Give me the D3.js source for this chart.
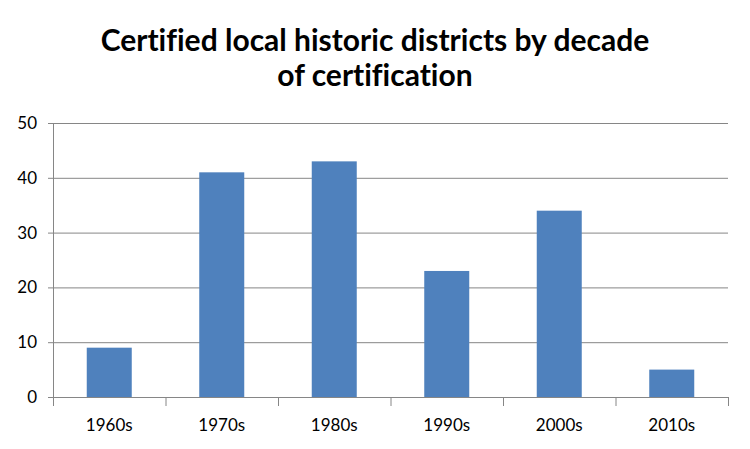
<!DOCTYPE html>
<html><head><meta charset="utf-8">
<script src="https://cdn.jsdelivr.net/npm/d3@7"></script>
<style>body{margin:0;background:#fff}svg{display:block}text{font-family:Lato,"Open Sans",sans-serif;font-variant-ligatures:none}</style>
</head><body><svg id="c" width="750" height="449"></svg>
<script>
const categories = ["1960s","1970s","1980s","1990s","2000s","2010s"];
const values = [9,41,43,23,34,5];
const yTicks = [0,10,20,30,40,50];
const titleLines = ["Certified local historic districts by decade","of certification"];

const svg = d3.select("#c");
const L=53, R=728, T=123, B=397;
const x = d3.scaleBand().domain(categories).range([L,R]).paddingInner(0.6).paddingOuter(0.3);
const y = d3.scaleLinear().domain([0,50]).range([B,T]);

svg.append("g").selectAll("line").data(yTicks).join("line")
  .attr("x1",L-5).attr("x2",R).attr("y1",d=>y(d)+0.5).attr("y2",d=>y(d)+0.5)
  .attr("stroke","#868686").attr("stroke-width",1);

svg.append("g").selectAll("rect").data(values).join("rect")
  .attr("x",(d,i)=>x(categories[i])).attr("width",x.bandwidth())
  .attr("y",d=>y(d)).attr("height",d=>B-y(d)).attr("fill","#4F81BD");

svg.append("line").attr("x1",L+0.5).attr("x2",L+0.5).attr("y1",T).attr("y2",B).attr("stroke","#868686");
const step=(R-L)/categories.length;
svg.append("g").selectAll("line").data(d3.range(categories.length+1)).join("line")
  .attr("x1",i=>L+i*step+0.5).attr("x2",i=>L+i*step+0.5).attr("y1",B).attr("y2",B+9).attr("stroke","#868686");

svg.append("g").selectAll("text").data(yTicks).join("text")
  .attr("x",37).attr("y",d=>y(d)+6).attr("text-anchor","end").attr("font-size",17).attr("fill","#000").text(d=>d);

svg.append("g").selectAll("text").data(categories).join("text")
  .attr("x",d=>x(d)+x.bandwidth()/2).attr("y",431).attr("text-anchor","middle").attr("font-size",17).attr("fill","#000").text(d=>d);

svg.append("g").selectAll("text").data(titleLines).join("text")
  .attr("x",375).attr("y",(d,i)=>51+i*35).attr("text-anchor","middle").attr("font-size",30).attr("font-weight","bold").attr("fill","#000").text(d=>d);
</script></body></html>
